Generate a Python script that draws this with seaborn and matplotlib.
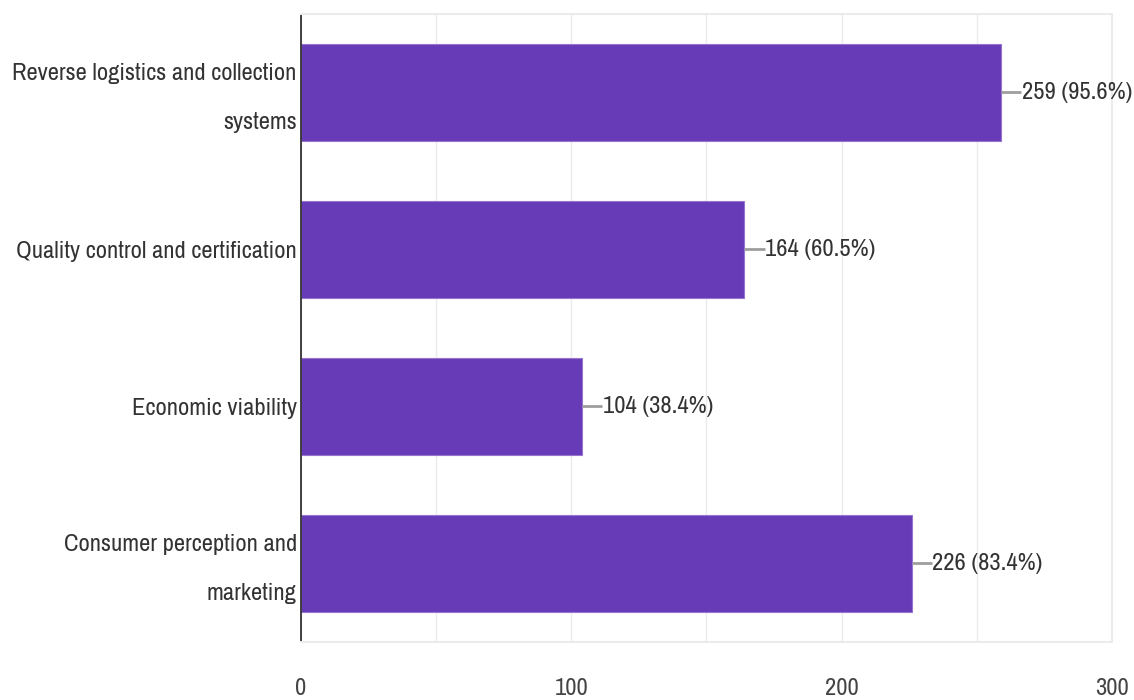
import matplotlib
matplotlib.use("Agg")
import matplotlib.pyplot as plt
from matplotlib import font_manager
from matplotlib.transforms import ScaledTranslation
import seaborn as sns
import pandas as pd

categories = [
    "Reverse logistics and collection\nsystems",
    "Quality control and certification",
    "Economic viability",
    "Consumer perception and\nmarketing",
]
counts = [259, 164, 104, 226]
percents = [95.6, 60.5, 38.4, 83.4]
x_ticks = [0, 100, 200, 300]

sns.set_style("white")


def pick_narrow_font():
    """Return the file path of an installed condensed sans face, if any."""
    narrow = ("condensed", "semi-condensed", "extra-condensed", "ultra-condensed")
    best = None
    for f in font_manager.fontManager.ttflist:
        name = f.name.lower()
        is_narrow = (str(f.stretch).lower() in narrow or "condensed" in name
                     or "narrow" in name)
        if not is_narrow or f.style != "normal":
            continue
        w = f.weight if isinstance(f.weight, int) else 400
        if w != 400:
            continue
        rank = 0 if ("roboto" in name or "narrow" in name) else 1
        if best is None or rank < best[0]:
            best = (rank, f.fname)
    return best[1] if best else None


narrow_path = pick_narrow_font()
plt.rcParams["font.family"] = ["Liberation Sans", "DejaVu Sans"]
if narrow_path:
    base_size = 17.7
    def fp(size=base_size):
        return font_manager.FontProperties(fname=narrow_path, size=size)
else:
    base_size = 14.5
    def fp(size=base_size):
        return font_manager.FontProperties(family="Liberation Sans", size=size)

df = pd.DataFrame({"category": categories, "count": counts})

fig = plt.figure(figsize=(11.34, 7.0), dpi=100)
ax = fig.add_axes([0.2654, 0.0829, 0.9806 - 0.2654, 0.98 - 0.0829])

sns.barplot(data=df, y="category", x="count", orient="h", color="#673ab7",
            saturation=1, width=0.62, ax=ax, edgecolor="#9575cd", linewidth=0.8)

ax.set_xlim(0, 300)
ax.set_ylim(3.5, -0.5)
ax.set_xticks(x_ticks)
ax.set_xticklabels([str(t) for t in x_ticks], fontproperties=fp(), color="#444444")
ax.set_xticks(range(0, 301, 50), minor=True)
ax.xaxis.grid(True, which="both", color="#ebebeb", linewidth=1)
ax.set_axisbelow(True)
ax.tick_params(axis="x", which="both", length=0, pad=26)
ax.tick_params(axis="y", length=0, pad=3)
ax.set_yticks(range(len(categories)))
ax.set_yticklabels(categories, fontproperties=fp(), color="#333333", linespacing=2.65)
# two-line labels: centre the block on the bar, nudged slightly down
nudge = ScaledTranslation(0, -0.055, fig.dpi_scale_trans)
for lab in ax.get_yticklabels():
    if "\n" in lab.get_text():
        lab.set_verticalalignment("center")
        lab.set_transform(lab.get_transform() + nudge)
ax.set_xlabel("")
ax.set_ylabel("")

for side in ["top", "bottom", "right"]:
    ax.spines[side].set_color("#ebebeb")
    ax.spines[side].set_linewidth(1.5)
ax.spines["left"].set_color("#333333")
ax.spines["left"].set_linewidth(1.3)

for i, (c, p) in enumerate(zip(counts, percents)):
    ax.plot([c, c + 7.5], [i, i], color="#9e9e9e", linewidth=2, solid_capstyle="butt")
    ax.text(c + 7.6, i, f"{c} ({p}%)", va="center", ha="left",
            fontproperties=fp(), color="#333333")

fig.savefig("out.png", dpi=100)
